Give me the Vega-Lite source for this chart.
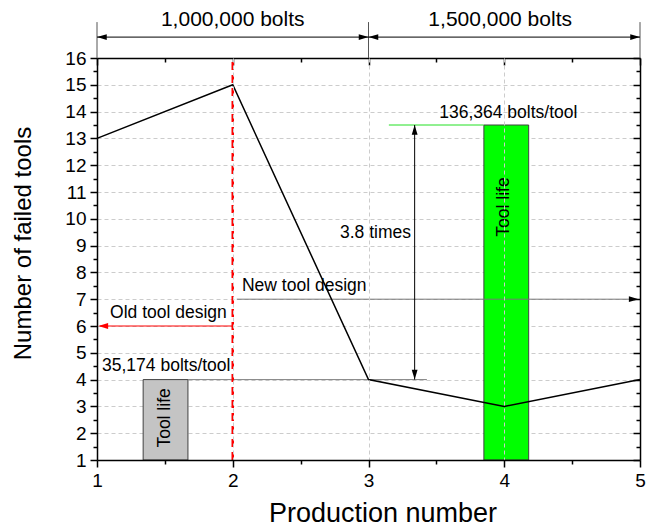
{
  "$schema": "https://vega.github.io/schema/vega-lite/v6.json",
  "width": 543,
  "height": 402,
  "autosize": {"type": "none"},
  "padding": {"left": 97, "top": 58, "right": 15, "bottom": 66},
  "background": "#ffffff",
  "config": {
    "font": "Liberation Sans",
    "view": {"stroke": null},
    "axis": {
      "domainColor": "#000000", "domainWidth": 1.5,
      "tickColor": "#000000", "tickWidth": 1.5,
      "labelFont": "Liberation Sans", "labelFontSize": 19, "labelColor": "#000000",
      "labelFlush": false, "labelOverlap": false,
      "titleFont": "Liberation Sans", "titleFontSize": 24, "titleFontWeight": "normal", "titleColor": "#000000",
      "gridColor": "#cccccc", "gridDash": [4, 3], "gridWidth": 1
    },
    "text": {"font": "Liberation Sans", "color": "#000000"}
  },
  "datasets": {
    "series": [
      {"p": 1, "n": 13}, {"p": 2, "n": 15}, {"p": 3, "n": 4}, {"p": 4, "n": 3}, {"p": 5, "n": 4}
    ],
    "bars": [
      {"x": 1.34, "x2": 1.67, "y": 1, "y2": 4, "kind": "bar_old"},
      {"x": 3.85, "x2": 4.18, "y": 1, "y2": 13.5, "kind": "bar_new"}
    ],
    "segments": [
      {"x": 1, "x2": 1, "y": 16, "y2": 17.34, "kind": "divider"},
      {"x": 3, "x2": 3, "y": 16, "y2": 17.34, "kind": "divider"},
      {"x": 5, "x2": 5, "y": 16, "y2": 17.34, "kind": "divider"},
      {"x": 1, "x2": 3, "y": 16.78, "y2": 16.78, "kind": "header"},
      {"x": 3, "x2": 5, "y": 16.78, "y2": 16.78, "kind": "header"},
      {"x": 1.02, "x2": 2, "y": 6, "y2": 6, "kind": "old"},
      {"x": 2.03, "x2": 4.95, "y": 7, "y2": 7, "kind": "new"},
      {"x": 1.67, "x2": 3.43, "y": 4, "y2": 4, "kind": "life_old"},
      {"x": 3.15, "x2": 3.85, "y": 13.5, "y2": 13.5, "kind": "life_new"},
      {"x": 3.34, "x2": 3.34, "y": 4, "y2": 13.5, "kind": "header"}
    ],
    "cutoff": [{"x": 2, "y": 1, "y2": 16}],
    "heads": [
      {"x": 1, "y": 16.78, "dir": "left", "kind": "header"},
      {"x": 3, "y": 16.78, "dir": "right", "kind": "header"},
      {"x": 3, "y": 16.78, "dir": "left", "kind": "header"},
      {"x": 5, "y": 16.78, "dir": "right", "kind": "header"},
      {"x": 1.01, "y": 6, "dir": "left", "kind": "old"},
      {"x": 4.99, "y": 7, "dir": "right", "kind": "header"},
      {"x": 3.34, "y": 13.5, "dir": "up", "kind": "header"},
      {"x": 3.34, "y": 4, "dir": "down", "kind": "header"}
    ],
    "notes": [
      {"x": 2, "y": 17.4, "text": "1,000,000 bolts", "style": "header"},
      {"x": 3.97, "y": 17.4, "text": "1,500,000 bolts", "style": "header"},
      {"x": 1.096, "y": 6.49, "text": "Old tool design", "style": "left"},
      {"x": 2.068, "y": 7.49, "text": "New tool design", "style": "left"},
      {"x": 1.037, "y": 4.5, "text": "35,174 bolts/tool", "style": "left"},
      {"x": 4.03, "y": 13.93, "text": "136,364 bolts/tool", "style": "center"},
      {"x": 3.313, "y": 9.47, "text": "3.8 times", "style": "right"},
      {"x": 1.5, "y": 2.57, "text": "Tool life", "style": "vertical"},
      {"x": 4.0, "y": 10.44, "text": "Tool life", "style": "vertical"}
    ]
  },
  "resolve": {"axis": {"x": "independent", "y": "independent"}},
  "layer": [
    {
      "data": {"name": "bars"},
      "mark": {"type": "rect", "stroke": "#404040", "strokeWidth": 1},
      "encoding": {
        "x": {"field": "x", "type": "quantitative", "scale": {"domain": [1, 5], "nice": false, "zero": false}, "axis": null},
        "x2": {"field": "x2"},
        "y": {"field": "y", "type": "quantitative", "scale": {"domain": [1, 16], "nice": false, "zero": false}, "axis": null},
        "y2": {"field": "y2"},
        "color": {"field": "kind", "type": "nominal", "legend": null,
          "scale": {"domain": ["bar_old", "bar_new", "divider", "header", "old", "new", "life_old", "life_new"],
                    "range": ["#c4c4c4", "#00ff00", "#555555", "#000000", "#ff0000", "#777777", "#808080", "#22e022"]}}
      }
    },
    {
      "data": {"name": "segments"},
      "mark": {"type": "rule", "strokeWidth": 1},
      "encoding": {
        "x": {"field": "x", "type": "quantitative", "scale": {"domain": [1, 5], "nice": false, "zero": false}, "axis": null},
        "x2": {"field": "x2"},
        "y": {"field": "y", "type": "quantitative", "scale": {"domain": [1, 16], "nice": false, "zero": false}, "axis": null},
        "y2": {"field": "y2"},
        "color": {"field": "kind", "type": "nominal", "legend": null,
          "scale": {"domain": ["bar_old", "bar_new", "divider", "header", "old", "new", "life_old", "life_new"],
                    "range": ["#c4c4c4", "#00ff00", "#555555", "#000000", "#ff0000", "#777777", "#808080", "#22e022"]}}
      }
    },
    {
      "data": {"name": "cutoff"},
      "mark": {"type": "rule", "color": "#ff0000", "strokeWidth": 2.5, "strokeDash": [8, 5]},
      "encoding": {
        "x": {"field": "x", "type": "quantitative", "scale": {"domain": [1, 5], "nice": false, "zero": false}, "axis": null},
        "y": {"field": "y", "type": "quantitative", "scale": {"domain": [1, 16], "nice": false, "zero": false}, "axis": null},
        "y2": {"field": "y2"}
      }
    },
    {
      "data": {"name": "series"},
      "mark": {"type": "line", "color": "#000000", "strokeWidth": 1.5},
      "encoding": {
        "x": {"field": "p", "type": "quantitative", "scale": {"domain": [1, 5], "nice": false, "zero": false},
          "axis": {"orient": "bottom", "values": [1, 1.5, 2, 2.5, 3, 3.5, 4, 4.5, 5],
            "labelExpr": "datum.value % 1 === 0 ? format(datum.value, 'd') : ''",
            "tickSize": {"condition": {"test": "datum.value % 1 !== 0", "value": 4}, "value": 7},
            "labelPadding": 4, "grid": true,
            "gridOpacity": {"condition": {"test": "datum.value % 1 !== 0 || datum.value <= 1 || datum.value >= 5", "value": 0}, "value": 1},
            "title": "Production number", "titleFontSize": 27, "titleX": 285.5, "titleY": 61, "titleBaseline": "alphabetic", "zindex": 1}},
        "y": {"field": "n", "type": "quantitative", "scale": {"domain": [1, 16], "nice": false, "zero": false},
          "axis": {"orient": "left", "values": [1, 1.5, 2, 2.5, 3, 3.5, 4, 4.5, 5, 5.5, 6, 6.5, 7, 7.5, 8, 8.5, 9, 9.5, 10, 10.5, 11, 11.5, 12, 12.5, 13, 13.5, 14, 14.5, 15, 15.5, 16],
            "labelExpr": "datum.value % 1 === 0 ? format(datum.value, 'd') : ''",
            "tickSize": {"condition": {"test": "datum.value % 1 !== 0", "value": 4}, "value": 7},
            "labelPadding": 4, "grid": true,
            "gridOpacity": {"condition": {"test": "datum.value % 1 !== 0 || datum.value <= 1 || datum.value >= 16", "value": 0}, "value": 1},
            "title": "Number of failed tools", "titleX": -67, "titleY": 185, "titleBaseline": "alphabetic", "titleAngle": -90}}
      }
    },
    {
      "data": {"name": "series"},
      "mark": {"type": "point", "opacity": 0},
      "encoding": {
        "x": {"field": "p", "type": "quantitative", "scale": {"domain": [1, 5], "nice": false, "zero": false},
          "axis": {"orient": "top", "values": [1, 1.5, 2, 2.5, 3, 3.5, 4, 4.5, 5], "labels": false, "grid": false, "title": null,
            "tickSize": {"condition": {"test": "datum.value % 1 !== 0", "value": -4}, "value": -7}}},
        "y": {"field": "n", "type": "quantitative", "scale": {"domain": [1, 16], "nice": false, "zero": false},
          "axis": {"orient": "right", "values": [1, 1.5, 2, 2.5, 3, 3.5, 4, 4.5, 5, 5.5, 6, 6.5, 7, 7.5, 8, 8.5, 9, 9.5, 10, 10.5, 11, 11.5, 12, 12.5, 13, 13.5, 14, 14.5, 15, 15.5, 16], "labels": false, "grid": false, "title": null,
            "tickSize": {"condition": {"test": "datum.value % 1 !== 0", "value": -4}, "value": -7}}}
      }
    },
    {
      "data": {"name": "heads"},
      "transform": [{"filter": "datum.dir === 'left'"}],
      "mark": {"type": "point", "shape": "M0,0L1,-0.3L1,0.3Z", "filled": true, "size": 380, "opacity": 1, "strokeWidth": 0},
      "encoding": {
        "x": {"field": "x", "type": "quantitative", "scale": {"domain": [1, 5], "nice": false, "zero": false}, "axis": null},
        "y": {"field": "y", "type": "quantitative", "scale": {"domain": [1, 16], "nice": false, "zero": false}, "axis": null},
        "color": {"field": "kind", "type": "nominal", "legend": null,
          "scale": {"domain": ["bar_old", "bar_new", "divider", "header", "old", "new", "life_old", "life_new"],
                    "range": ["#c4c4c4", "#00ff00", "#555555", "#000000", "#ff0000", "#777777", "#808080", "#22e022"]}}
      }
    },
    {
      "data": {"name": "heads"},
      "transform": [{"filter": "datum.dir === 'right'"}],
      "mark": {"type": "point", "shape": "M0,0L-1,-0.3L-1,0.3Z", "filled": true, "size": 380, "opacity": 1, "strokeWidth": 0},
      "encoding": {
        "x": {"field": "x", "type": "quantitative", "scale": {"domain": [1, 5], "nice": false, "zero": false}, "axis": null},
        "y": {"field": "y", "type": "quantitative", "scale": {"domain": [1, 16], "nice": false, "zero": false}, "axis": null},
        "color": {"field": "kind", "type": "nominal", "legend": null,
          "scale": {"domain": ["bar_old", "bar_new", "divider", "header", "old", "new", "life_old", "life_new"],
                    "range": ["#c4c4c4", "#00ff00", "#555555", "#000000", "#ff0000", "#777777", "#808080", "#22e022"]}}
      }
    },
    {
      "data": {"name": "heads"},
      "transform": [{"filter": "datum.dir === 'up'"}],
      "mark": {"type": "point", "shape": "M0,0L-0.3,1L0.3,1Z", "filled": true, "size": 380, "opacity": 1, "strokeWidth": 0},
      "encoding": {
        "x": {"field": "x", "type": "quantitative", "scale": {"domain": [1, 5], "nice": false, "zero": false}, "axis": null},
        "y": {"field": "y", "type": "quantitative", "scale": {"domain": [1, 16], "nice": false, "zero": false}, "axis": null},
        "color": {"field": "kind", "type": "nominal", "legend": null,
          "scale": {"domain": ["bar_old", "bar_new", "divider", "header", "old", "new", "life_old", "life_new"],
                    "range": ["#c4c4c4", "#00ff00", "#555555", "#000000", "#ff0000", "#777777", "#808080", "#22e022"]}}
      }
    },
    {
      "data": {"name": "heads"},
      "transform": [{"filter": "datum.dir === 'down'"}],
      "mark": {"type": "point", "shape": "M0,0L-0.3,-1L0.3,-1Z", "filled": true, "size": 380, "opacity": 1, "strokeWidth": 0},
      "encoding": {
        "x": {"field": "x", "type": "quantitative", "scale": {"domain": [1, 5], "nice": false, "zero": false}, "axis": null},
        "y": {"field": "y", "type": "quantitative", "scale": {"domain": [1, 16], "nice": false, "zero": false}, "axis": null},
        "color": {"field": "kind", "type": "nominal", "legend": null,
          "scale": {"domain": ["bar_old", "bar_new", "divider", "header", "old", "new", "life_old", "life_new"],
                    "range": ["#c4c4c4", "#00ff00", "#555555", "#000000", "#ff0000", "#777777", "#808080", "#22e022"]}}
      }
    },
    {
      "data": {"name": "notes"},
      "transform": [{"filter": "datum.style === 'header'"}],
      "mark": {"type": "text", "fontSize": 21, "align": "center", "baseline": "middle", "color": "#000000"},
      "encoding": {
        "x": {"field": "x", "type": "quantitative", "scale": {"domain": [1, 5], "nice": false, "zero": false}, "axis": null},
        "y": {"field": "y", "type": "quantitative", "scale": {"domain": [1, 16], "nice": false, "zero": false}, "axis": null},
        "text": {"field": "text"}
      }
    },
    {
      "data": {"name": "notes"},
      "transform": [{"filter": "datum.style === 'left'"}],
      "mark": {"type": "text", "fontSize": 17.5, "align": "left", "baseline": "middle", "color": "#000000"},
      "encoding": {
        "x": {"field": "x", "type": "quantitative", "scale": {"domain": [1, 5], "nice": false, "zero": false}, "axis": null},
        "y": {"field": "y", "type": "quantitative", "scale": {"domain": [1, 16], "nice": false, "zero": false}, "axis": null},
        "text": {"field": "text"}
      }
    },
    {
      "data": {"name": "notes"},
      "transform": [{"filter": "datum.style === 'center'"}],
      "mark": {"type": "text", "fontSize": 17.5, "align": "center", "baseline": "middle", "color": "#000000"},
      "encoding": {
        "x": {"field": "x", "type": "quantitative", "scale": {"domain": [1, 5], "nice": false, "zero": false}, "axis": null},
        "y": {"field": "y", "type": "quantitative", "scale": {"domain": [1, 16], "nice": false, "zero": false}, "axis": null},
        "text": {"field": "text"}
      }
    },
    {
      "data": {"name": "notes"},
      "transform": [{"filter": "datum.style === 'right'"}],
      "mark": {"type": "text", "fontSize": 17.5, "align": "right", "baseline": "middle", "color": "#000000"},
      "encoding": {
        "x": {"field": "x", "type": "quantitative", "scale": {"domain": [1, 5], "nice": false, "zero": false}, "axis": null},
        "y": {"field": "y", "type": "quantitative", "scale": {"domain": [1, 16], "nice": false, "zero": false}, "axis": null},
        "text": {"field": "text"}
      }
    },
    {
      "data": {"name": "notes"},
      "transform": [{"filter": "datum.style === 'vertical'"}],
      "mark": {"type": "text", "fontSize": 17.5, "align": "center", "baseline": "middle", "angle": 270, "color": "#000000"},
      "encoding": {
        "x": {"field": "x", "type": "quantitative", "scale": {"domain": [1, 5], "nice": false, "zero": false}, "axis": null},
        "y": {"field": "y", "type": "quantitative", "scale": {"domain": [1, 16], "nice": false, "zero": false}, "axis": null},
        "text": {"field": "text"}
      }
    }
  ]
}
